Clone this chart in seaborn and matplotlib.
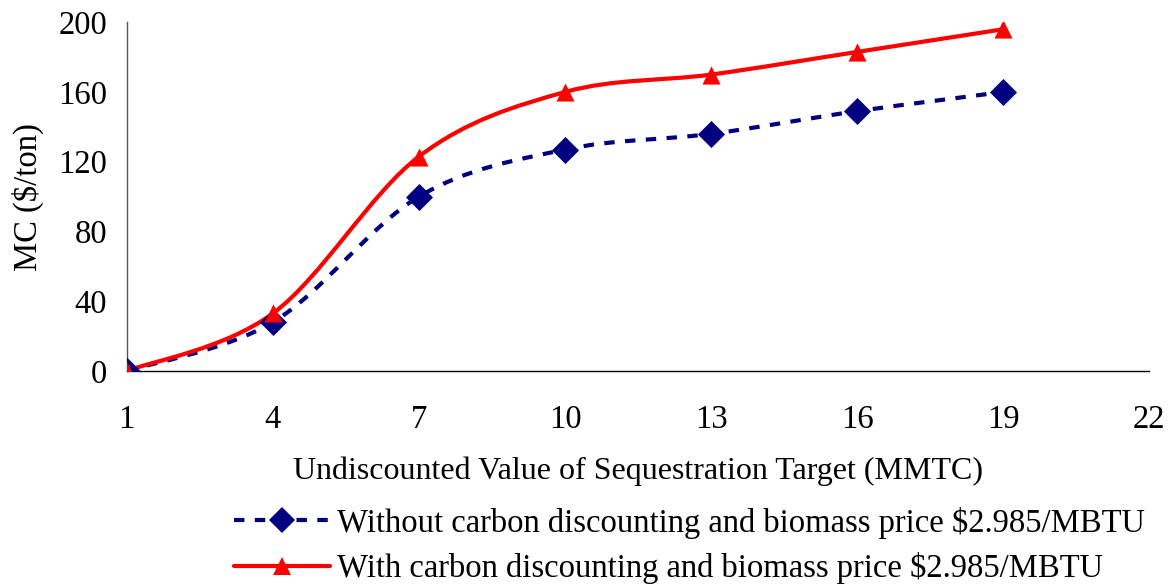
import numpy as np
import pandas as pd
import matplotlib
matplotlib.use("Agg")
import matplotlib.pyplot as plt
from matplotlib.path import Path
from matplotlib.patches import PathPatch
from matplotlib.lines import Line2D
import seaborn as sns

# ---- data ----
targets = [1, 4, 7, 10, 13, 16, 19]
mc_without = [0, 28, 100, 127, 136, 149, 160]
mc_with = [0, 33, 123, 160, 170, 183, 196]
label_without = "Without carbon discounting and biomass price $2.985/MBTU"
label_with = "With carbon discounting and biomass price $2.985/MBTU"
x_ticks = [1, 4, 7, 10, 13, 16, 19, 22]
y_ticks = [0, 40, 80, 120, 160, 200]

sns.set_theme(style="white")
plt.rcParams['font.family'] = ['Liberation Serif', 'DejaVu Serif']
plt.rcParams['text.color'] = 'black'

fig = plt.figure(figsize=(11.74, 5.86), dpi=100)
ax = fig.add_axes([0.108, 0.367, 0.871, 0.595])


def smooth_path(xs, ys):
    """Excel-style smoothed line: cubic Bezier through the points."""
    pts = np.column_stack([xs, ys]).astype(float)
    n = len(pts)
    verts = [pts[0]]
    codes = [Path.MOVETO]
    for i in range(n - 1):
        p0 = pts[i - 1] if i > 0 else pts[i]
        p1 = pts[i]
        p2 = pts[i + 1]
        p3 = pts[i + 2] if i + 2 < n else pts[i + 1]
        c1 = p1 + (p2 - p0) / 6.0
        c2 = p2 - (p3 - p1) / 6.0
        verts += [c1, c2, p2]
        codes += [Path.CURVE4] * 3
    return Path(verts, codes)


blue = "#000080"
red = "#FF0000"

ax.add_patch(PathPatch(smooth_path(targets, mc_without), fill=False,
                       edgecolor=blue, lw=3, linestyle=(0, (2.5, 2.5)),
                       capstyle='butt', zorder=2))
ax.add_patch(PathPatch(smooth_path(targets, mc_with), fill=False,
                       edgecolor=red, lw=3, zorder=3))

df = pd.DataFrame({"x": targets, "without": mc_without, "with": mc_with})
sns.scatterplot(data=df, x="x", y="without", marker="D", s=190,
                color=blue, edgecolor=blue, linewidth=0, ax=ax, zorder=4)
sns.scatterplot(data=df, x="x", y="with", marker="^", s=170,
                color=red, edgecolor=red, linewidth=0, ax=ax, zorder=5)

FS = 23.5
ax.set_xlim(1, 22)
ax.set_ylim(0, 200)
ax.set_xticks(x_ticks)
ax.set_yticks(y_ticks)
ax.set_xticklabels([str(t) for t in x_ticks])
ax.set_yticklabels([str(t) for t in y_ticks])
for s in ["top", "right"]:
    ax.spines[s].set_visible(False)
ax.spines["bottom"].set_color("black")
ax.spines["bottom"].set_linewidth(1.0)
ax.spines["left"].set_color("#555555")
ax.spines["left"].set_linewidth(1.0)
ax.tick_params(axis="both", which="major", direction="out", length=8,
               width=1.0, color="#555555", labelsize=FS, labelcolor="black")
ax.tick_params(axis="x", pad=16)
ax.tick_params(axis="y", pad=6)

ax.set_xlabel("Undiscounted Value of Sequestration Target (MMTC)",
              fontsize=FS - 0.5, labelpad=16, color="black")
ax.set_ylabel("MC ($/ton)", fontsize=FS, labelpad=10, color="black")

handles = [
    Line2D([], [], color=blue, lw=3, linestyle=(0, (2.5, 2.5)), marker="D",
           markersize=13, markerfacecolor=blue, markeredgewidth=0),
    Line2D([], [], color=red, lw=3, marker="^", markersize=13,
           markerfacecolor=red, markeredgewidth=0),
]
leg = fig.legend(handles, [label_without, label_with], loc="upper left",
                 bbox_to_anchor=(0.199, 0.135), frameon=False, fontsize=FS,
                 handlelength=2.95, handletextpad=0.22, labelspacing=0.4,
                 borderaxespad=0, borderpad=0)
for t in leg.get_texts():
    t.set_color("black")

fig.savefig("out.png", dpi=100, facecolor="white")
